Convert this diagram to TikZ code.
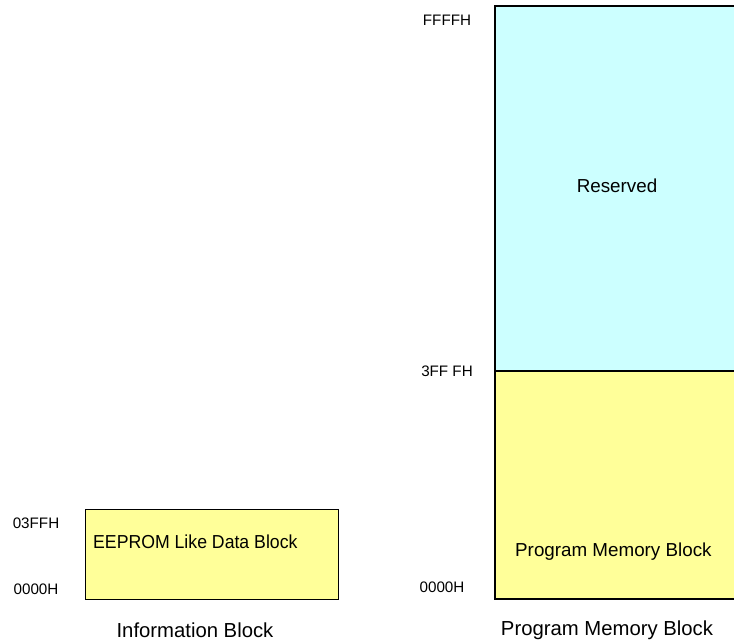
\documentclass[tikz,border=0pt]{standalone}
\usepackage{fontspec}
\setmainfont{Liberation Sans}
\definecolor{resv}{HTML}{CCFFFF}
\definecolor{pmem}{HTML}{FFFF99}
\tikzset{
  addr/.style={font=\fontsize{15.2}{17}\selectfont, inner sep=0pt},
  intext/.style={font=\fontsize{18.8}{21}\selectfont, inner sep=0pt},
  caption/.style={font=\fontsize{20.3}{23}\selectfont, inner sep=0pt},
  border/.style={line width=1.3pt, black}
}
\begin{document}
\begin{tikzpicture}[x=1pt,y=-1pt]
\useasboundingbox (0,0) rectangle (734,644);
% right (program memory) column
\fill[resv] (495,6) rectangle (734,371);
\fill[pmem] (495,371) rectangle (734,599);
\draw[border] (734,6) -- (495,6) -- (495,599) -- (734,599);
\draw[border] (495,371) -- (734,371);
% left (information) block
\node[draw, border, fill=pmem, minimum width=253pt, minimum height=90pt, inner sep=0pt, anchor=north west] (info) at (85,509) {};
% texts
\node[addr] (ffff) at (447,20) {FFFFH};
\node[addr] (a3fff) at (447,371) {3FF FH};
\node[addr] (r0000) at (442,587) {0000H};
\node[addr] (a03ff) at (36,523) {03FFH};
\node[addr] (l0000) at (36,589) {0000H};
\node[intext] (resvtxt) at (617,186) {Reserved};
\node[intext, anchor=west, xscale=0.94] (eeprom) at (93,542) {EEPROM Like Data Block};
\node[intext, anchor=west] (pmtxt) at (515,552) {Program Memory Block};
\node[caption] (infocap) at (195,630) {Information Block};
\node[caption] (pmcap) at (607,630) {Program Memory Block};
\end{tikzpicture}
\end{document}
